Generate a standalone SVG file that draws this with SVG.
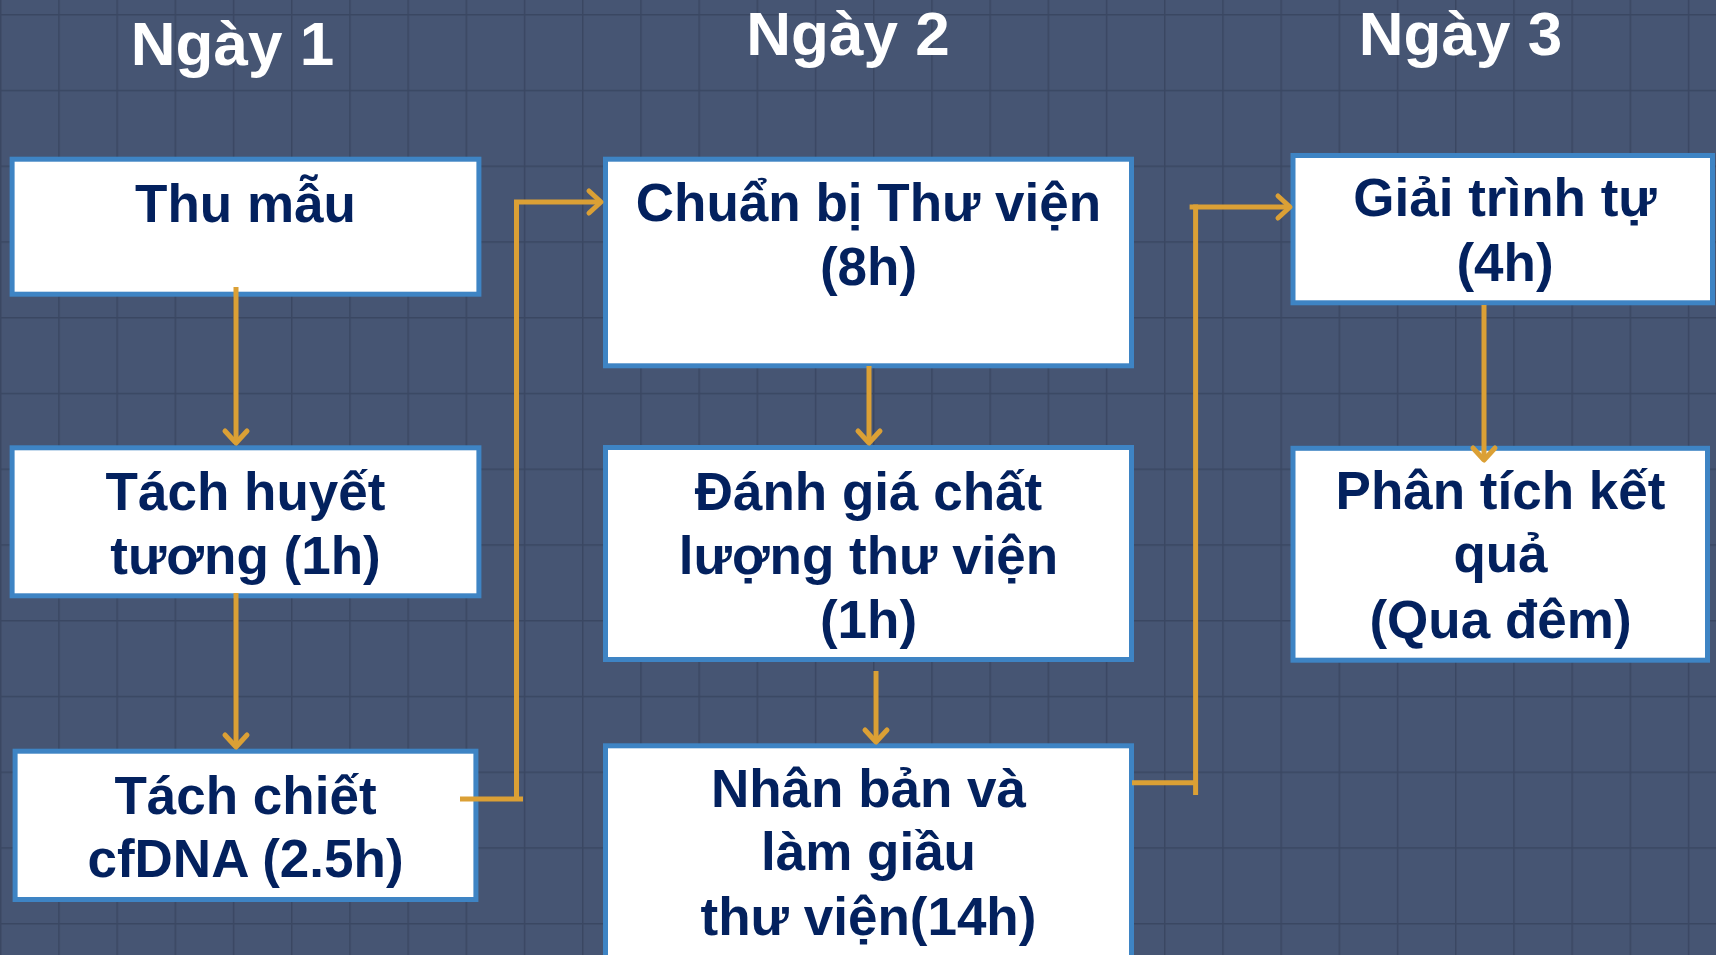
<svg xmlns="http://www.w3.org/2000/svg" width="1716" height="955" viewBox="0 0 1716 955">
  <defs>
    <pattern id="grid" x="0" y="14" width="58.2" height="75.75" patternUnits="userSpaceOnUse">
      <path d="M0,0 V75.75 M0,0 H58.2" fill="none" stroke="#3A4762" stroke-width="3"/>
    </pattern>
    <marker id="arr" viewBox="-18 -18 36 36" markerWidth="36" markerHeight="36" refX="0" refY="0" orient="auto" markerUnits="userSpaceOnUse">
      <path d="M-12,-11 L0,0 L-12,11" fill="none" stroke="#DBA035" stroke-width="5" stroke-linecap="round" stroke-linejoin="round"/>
    </marker>
    <style>
      .box { fill: #FFFFFF; stroke: #3E84C4; stroke-width: 5; }
      .lbl { font-family: "Liberation Sans", Arial, sans-serif; font-weight: bold; font-size: 53px; fill: #03215E; text-anchor: middle; }
      .hdr { font-family: "Liberation Sans", Arial, sans-serif; font-weight: bold; font-size: 62px; fill: #FFFFFF; text-anchor: middle; }
      .con { fill: none; stroke: #DBA035; stroke-width: 5; }
    </style>
  </defs>

  <rect x="0" y="0" width="1716" height="955" fill="#465573"/>
  <rect x="0" y="0" width="1716" height="955" fill="url(#grid)"/>

  <g id="headers">
    <text class="hdr" x="232.5" y="65">Ngày 1</text>
    <text class="hdr" x="848" y="54.5">Ngày 2</text>
    <text class="hdr" x="1460.5" y="55">Ngày 3</text>
  </g>

  <g id="node-thu-mau">
    <rect class="box" x="12.1" y="159.2" width="466.8" height="135"/>
    <text class="lbl" x="245.5" y="221.7">Thu mẫu</text>
  </g>
  <g id="node-tach-huyet-tuong">
    <rect class="box" x="12.1" y="447.8" width="466.8" height="148"/>
    <text class="lbl" x="245.5" y="510.4">Tách huyết</text>
    <text class="lbl" x="245.5" y="574.2">tương (1h)</text>
  </g>
  <g id="node-tach-chiet">
    <rect class="box" x="15.1" y="751.2" width="460.8" height="148.3"/>
    <text class="lbl" x="245.5" y="813.5">Tách chiết</text>
    <text class="lbl" x="245.5" y="877.2">cfDNA (2.5h)</text>
  </g>
  <g id="node-chuan-bi">
    <rect class="box" x="605.5" y="159.2" width="526" height="206.6"/>
    <text class="lbl" x="868.5" y="221">Chuẩn bị Thư viện</text>
    <text class="lbl" x="868.5" y="285">(8h)</text>
  </g>
  <g id="node-danh-gia">
    <rect class="box" x="605.5" y="447.5" width="526" height="212"/>
    <text class="lbl" x="868.5" y="510">Đánh giá chất</text>
    <text class="lbl" x="868.5" y="574">lượng thư viện</text>
    <text class="lbl" x="868.5" y="638.3">(1h)</text>
  </g>
  <g id="node-nhan-ban">
    <rect class="box" x="605.5" y="745.8" width="526" height="230"/>
    <text class="lbl" x="868.5" y="806.7">Nhân bản và</text>
    <text class="lbl" x="868.5" y="870">làm giầu</text>
    <text class="lbl" x="868.5" y="935">thư viện(14h)</text>
  </g>
  <g id="node-giai-trinh-tu">
    <rect class="box" x="1293" y="155.5" width="419.5" height="147.3"/>
    <text class="lbl" x="1505" y="215.8">Giải trình tự</text>
    <text class="lbl" x="1505" y="281.2">(4h)</text>
  </g>
  <g id="node-phan-tich">
    <rect class="box" x="1293" y="448.3" width="414.5" height="211.9"/>
    <text class="lbl" x="1500.5" y="509">Phân tích kết</text>
    <text class="lbl" x="1500.5" y="572">quả</text>
    <text class="lbl" x="1500.5" y="637.6">(Qua đêm)</text>
  </g>

  <g id="connectors">
    <path class="con" d="M236,287 V443" marker-end="url(#arr)"/>
    <path class="con" d="M236,593 V747" marker-end="url(#arr)"/>
    <path class="con" d="M460,799 H523"/>
    <path class="con" d="M516.5,797 V202 H601" marker-end="url(#arr)"/>
    <path class="con" d="M869,366 V443" marker-end="url(#arr)"/>
    <path class="con" d="M876,671 V742" marker-end="url(#arr)"/>
    <path class="con" d="M1132,782.7 H1197"/>
    <path class="con" d="M1195.6,795 V204.5"/>
    <path class="con" d="M1189.6,207 H1290" marker-end="url(#arr)"/>
    <path class="con" d="M1484,305 V460" marker-end="url(#arr)"/>
  </g>
</svg>
